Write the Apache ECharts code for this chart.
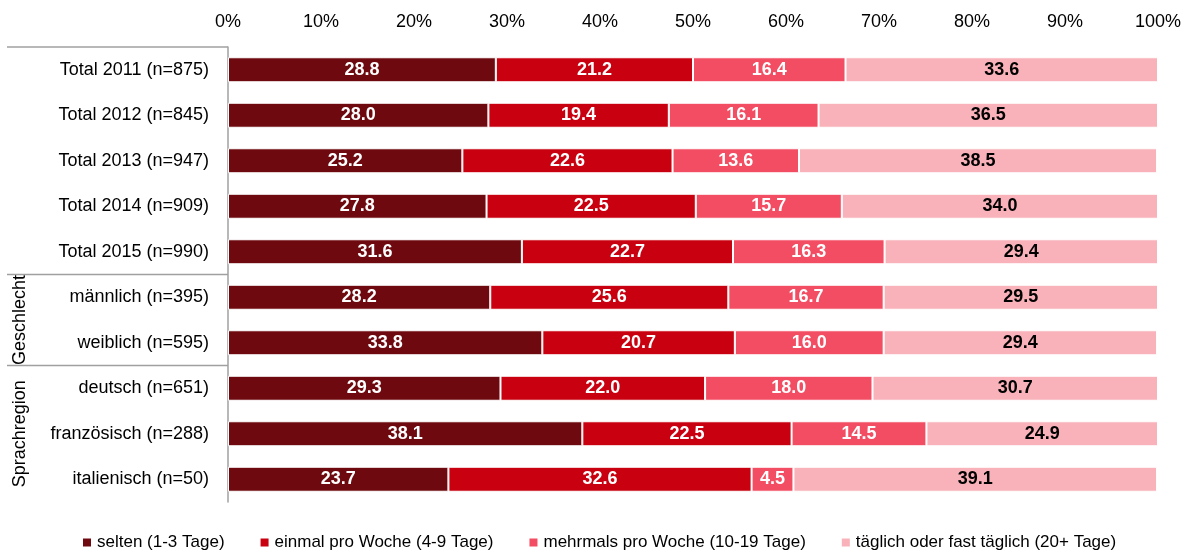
<!DOCTYPE html>
<html>
<head>
<meta charset="utf-8">
<script src="https://cdn.jsdelivr.net/npm/echarts@6/dist/echarts.min.js"></script>
<style>
  html, body { margin: 0; padding: 0; background: #fff; }
  #chart { width: 1186px; height: 558px; }
</style>
</head>
<body>
<div id="chart"></div>
<script>
const categories = [
  "Total 2011 (n=875)",
  "Total 2012 (n=845)",
  "Total 2013 (n=947)",
  "Total 2014 (n=909)",
  "Total 2015 (n=990)",
  "männlich (n=395)",
  "weiblich (n=595)",
  "deutsch (n=651)",
  "französisch (n=288)",
  "italienisch (n=50)",
]
const selten = [28.8, 28.0, 25.2, 27.8, 31.6, 28.2, 33.8, 29.3, 38.1, 23.7]
const einmal = [21.2, 19.4, 22.6, 22.5, 22.7, 25.6, 20.7, 22.0, 22.5, 32.6]
const mehrmals = [16.4, 16.1, 13.6, 15.7, 16.3, 16.7, 16.0, 18.0, 14.5, 4.5]
const taeglich = [33.6, 36.5, 38.5, 34.0, 29.4, 29.5, 29.4, 30.7, 24.9, 39.1]
const seriesNames = [
  "selten (1-3 Tage)",
  "einmal pro Woche (4-9 Tage)",
  "mehrmals pro Woche (10-19 Tage)",
  "täglich oder fast täglich (20+ Tage)",
]
// groups: [label, first index, last index]
const groups = [
  ["Geschlecht", 5, 6],
  ["Sprachregion", 7, 9],
]

const FONT = "'Liberation Sans Narrow', 'Arial Narrow', 'Liberation Sans', Arial, sans-serif"
const colors = ["#6e0a0f", "#c8000f", "#f24d62", "#f9b2b9"]
const labelColors = ["#fff", "#fff", "#fff", "#000"]

const chart = echarts.init(document.getElementById("chart"))

const makeSeries = (name, data, i) => ({
  name,
  type: "bar",
  stack: "all",
  data,
  barWidth: 25,
  itemStyle: {color: colors[i], borderColor: "#fff", borderWidth: 1},
  label: {
    show: true,
    position: "inside",
    color: labelColors[i],
    fontFamily: FONT,
    fontWeight: "bold",
    fontSize: 18,
    formatter: p => p.value.toFixed(1),
  },
})

chart.setOption({
  animation: false,
  color: colors,
  grid: {left: 228, right: 28, top: 47, bottom: 56},
  legend: {
    bottom: 2,
    left: 76,
    itemWidth: 10,
    itemHeight: 10,
    itemGap: 34,
    icon: "rect",
    textStyle: {fontFamily: FONT, fontSize: 17, color: "#000"},
    data: seriesNames,
  },
  xAxis: {
    type: "value",
    position: "top",
    min: 0,
    max: 100,
    interval: 10,
    axisLine: {show: false},
    axisTick: {show: false},
    splitLine: {show: false},
    axisLabel: {
      formatter: "{value}%",
      fontFamily: FONT,
      fontSize: 18,
      color: "#000",
      margin: 16,
    },
  },
  yAxis: {
    type: "category",
    inverse: true,
    data: categories,
    axisLine: {show: true, lineStyle: {color: "#a0a0a0", width: 1.5}},
    axisTick: {show: false},
    axisLabel: {fontFamily: FONT, fontSize: 18, color: "#000", margin: 19},
  },
  series: [
    makeSeries(seriesNames[0], selten, 0),
    makeSeries(seriesNames[1], einmal, 1),
    makeSeries(seriesNames[2], mehrmals, 2),
    makeSeries(seriesNames[3], taeglich, 3),
  ],
})

// separators and group labels on the left, placed via the category axis
const yOf = i => chart.convertToPixel({gridIndex: 0}, [0, i])[1]
const step = yOf(1) - yOf(0)
const x0 = chart.convertToPixel({gridIndex: 0}, [0, 0])[0]
const lineStyle = {stroke: "#a0a0a0", lineWidth: 1.5}
const graphics = [
  {type: "line", shape: {x1: 7, y1: yOf(0) - step / 2, x2: x0, y2: yOf(0) - step / 2}, style: lineStyle},
]
groups.forEach(([name, a, b]) => {
  const top = yOf(a) - step / 2
  const bottom = yOf(b) + step / 2
  graphics.push({type: "line", shape: {x1: 7, y1: top, x2: x0, y2: top}, style: lineStyle})
  graphics.push({
    type: "text",
    x: 20,
    y: (top + bottom) / 2,
    rotation: Math.PI / 2,
    style: {
      text: name,
      fontFamily: FONT,
      fontSize: 18,
      fill: "#000",
      align: "center",
      verticalAlign: "middle",
    },
  })
})
chart.setOption({graphic: graphics})
</script>
</body>
</html>
